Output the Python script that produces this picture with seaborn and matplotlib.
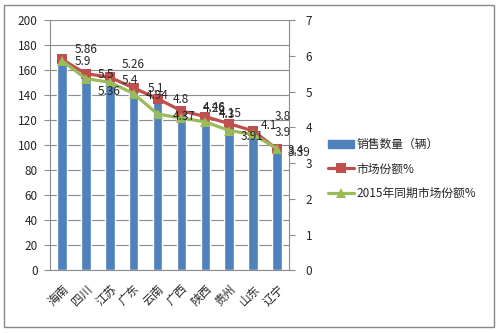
import numpy as np
import matplotlib
matplotlib.use("Agg")
import matplotlib.pyplot as plt
from matplotlib.patches import Patch, Rectangle
from matplotlib.lines import Line2D
import seaborn as sns

# Provinces, sales volume and market share (current vs. same period 2015)
provinces = ["海南", "四川", "江苏", "广东", "云南", "广西", "陕西", "贵州", "山东", "辽宁"]
sales = [166, 154, 151, 143, 136, 126, 121, 115, 109, 95]
share = [5.9, 5.5, 5.4, 5.1, 4.8, 4.46, 4.3, 4.1, 3.9, 3.39]
share_2015 = [5.86, 5.36, 5.26, 4.94, 4.37, 4.26, 4.15, 3.91, 3.8, 3.4]

left_ticks = list(range(0, 201, 20))
right_ticks = list(range(0, 8))

series_names = ["销售数量（辆）", "市场份额%", "2015年同期市场份额%"]

# label nudges in pixels (dx right, dy up) for the value annotations
share_offsets = [(13, -2), (12, -1), (12, -3), (14, -1), (15, -1), (21, 3), (13, 2), (31, -2), (22, -2), (11, -3)]
share15_offsets = [(13, 11), (12, -13), (12, 18), (12, -2), (15, -2), (21, 9), (13, 8), (11, -6), (22, 18), (11, -2)]

BLUE = "#4F81BD"
RED = "#C0504D"
GREEN = "#9BBB59"
GRID = "#8C8C8C"
TEXT = "#262626"

sns.set_style("white")
plt.rcParams["font.family"] = ["Noto Sans CJK SC", "DejaVu Sans"]
plt.rcParams["axes.unicode_minus"] = False

fig = plt.figure(figsize=(5, 3.33), dpi=100)
ax = fig.add_axes([0.1, 0.188, 0.478, 0.752])

sns.barplot(x=provinces, y=sales, ax=ax, color=BLUE, saturation=1, width=0.4, zorder=2)
ax.set_ylim(0, 200)
ax.set_xlim(-0.5, len(provinces) - 0.5)
ax.set_yticks(left_ticks)
ax.set_axisbelow(True)
ax.grid(axis="y", color=GRID, linewidth=0.8)
ax.set_xlabel("")
ax.set_ylabel("")

ax.set_xticks(range(len(provinces)))
ax.set_xticklabels(provinces, rotation=45, ha="right", va="top", rotation_mode="anchor")
ax.set_xticks(np.arange(-0.5, len(provinces), 1), minor=True)
ax.tick_params(axis="x", which="major", length=0, pad=9, labelsize=8.5, labelcolor=TEXT)
ax.tick_params(axis="x", which="minor", length=4, width=0.8, color=GRID, direction="out")
ax.tick_params(axis="y", length=4, width=0.8, color=GRID, direction="out", pad=5,
               labelsize=8.5, labelcolor=TEXT, left=True)

for s in ["top", "right"]:
    ax.spines[s].set_visible(False)
for s in ["left", "bottom"]:
    ax.spines[s].set_color(GRID)
    ax.spines[s].set_linewidth(0.8)

ax2 = ax.twinx()
x = np.arange(len(provinces))
sns.lineplot(x=x, y=share, ax=ax2, color=RED, linewidth=2.3, marker="s", markersize=6.5,
             markeredgecolor=RED, markeredgewidth=0, zorder=3)
sns.lineplot(x=x, y=share_2015, ax=ax2, color=GREEN, linewidth=2.3, marker="^", markersize=7,
             markeredgecolor=GREEN, markeredgewidth=0, zorder=4)
ax2.set_ylim(0, 7)
ax2.set_xlim(-0.5, len(provinces) - 0.5)
ax2.set_yticks(right_ticks)
ax2.set_xlabel("")
ax2.set_ylabel("")
ax2.tick_params(axis="y", length=4, width=0.8, color=GRID, direction="out", pad=8,
                labelsize=8.5, labelcolor=TEXT)
for s in ["top", "left", "bottom"]:
    ax2.spines[s].set_visible(False)
ax2.spines["right"].set_color(GRID)
ax2.spines["right"].set_linewidth(0.8)
if ax2.get_legend() is not None:
    ax2.get_legend().remove()

# value labels next to each point
for xi, v, (dx, dy) in zip(x, share, share_offsets):
    ax2.annotate(f"{v:g}", (xi, v), xytext=(dx, dy), textcoords="offset pixels",
                 ha="left", va="center", fontsize=8.5, color=TEXT, zorder=6)
for xi, v, (dx, dy) in zip(x, share_2015, share15_offsets):
    ax2.annotate(f"{v:g}", (xi, v), xytext=(dx, dy), textcoords="offset pixels",
                 ha="left", va="center", fontsize=8.5, color=TEXT, zorder=6)

handles = [
    Patch(facecolor=BLUE, edgecolor=BLUE),
    Line2D([], [], color=RED, linewidth=2.3, marker="s", markersize=6.5, markeredgewidth=0),
    Line2D([], [], color=GREEN, linewidth=2.3, marker="^", markersize=7, markeredgewidth=0),
]
fig.legend(handles, series_names, loc="center left", bbox_to_anchor=(0.635, 1 - 169 / 333),
           frameon=False, fontsize=8.5, handlelength=2.2, handletextpad=0.2,
           labelspacing=0.95, labelcolor=TEXT)

# outer chart frame
fig.patches.append(Rectangle((4 / 500, 6 / 333), 490 / 500, 322 / 333, transform=fig.transFigure,
                             fill=False, edgecolor="#888888", linewidth=1.0))

fig.savefig("out.png", dpi=100)
